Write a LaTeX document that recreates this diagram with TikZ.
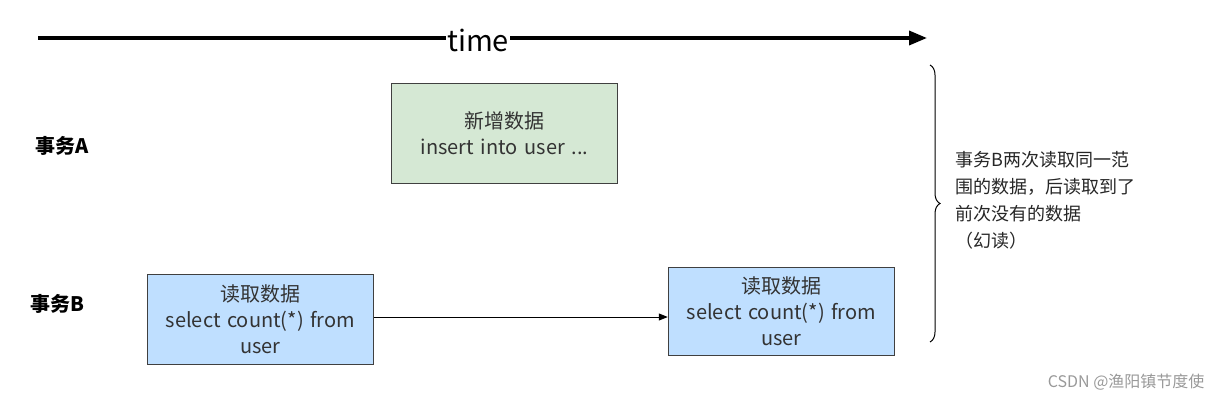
\documentclass[tikz,border=0pt]{standalone}
\usepackage{fontspec}
\setmainfont{Noto Sans CJK SC}
\usetikzlibrary{arrows.meta,decorations.pathreplacing}
\begin{document}
\begin{tikzpicture}[x=1pt,y=-1pt,
  box/.style={draw=black!75,line width=0.8pt,minimum width=226pt,text width=220pt,align=center,font=\fontsize{20}{26}\selectfont,text=black!80},
  lbl/.style={font=\bfseries\fontsize{20}{24}\selectfont,anchor=west}]
\useasboundingbox (0,0) rectangle (1212,402);
\coordinate (t0) at (38,38);
\coordinate (t1) at (927,38);
\draw[line width=3.5pt,-{Triangle[length=18pt,width=14pt]}] (t0) -- (t1);
\node[fill=white,inner sep=1pt,font=\fontsize{29}{32}\selectfont] (time) at (478,40) {time};
\node[box,fill={rgb,255:red,213;green,232;blue,212},minimum height=100pt] (a) at (504.5,133) {新增数据\\insert into user ...};
\node[box,fill={rgb,255:red,191;green,223;blue,255},minimum height=90pt] (b1) at (260.5,319) {读取数据\\select count(*) from\\user};
\node[box,fill={rgb,255:red,191;green,223;blue,255},minimum height=88pt] (b2) at (781.5,311) {读取数据\\select count(*) from\\user};
\draw[line width=0.8pt,-{Triangle[length=9pt,width=7pt]}] (b1.east |- 0,317) coordinate (s) -- (b2.west |- 0,317);
\node[lbl] (la) at (32,146) {事务A};
\node[lbl] (lb) at (27,304) {事务B};
\coordinate (br0) at (930,65);
\coordinate (br1) at (930,342);
\draw[line width=1pt,decorate,decoration={brace,amplitude=10pt}] (br0) -- (br1);
\node[anchor=north west,align=left,font=\fontsize{18}{27}\selectfont,text=black!85] (txt) at (952,148) {事务B两次读取同一范\\围的数据，后读取到了\\前次没有的数据\\（幻读）};
\node[anchor=east,font=\fontsize{16}{18}\selectfont,text=black!40] (wm) at (1208,382) {CSDN @渔阳镇节度使};
\end{tikzpicture}
\end{document}
